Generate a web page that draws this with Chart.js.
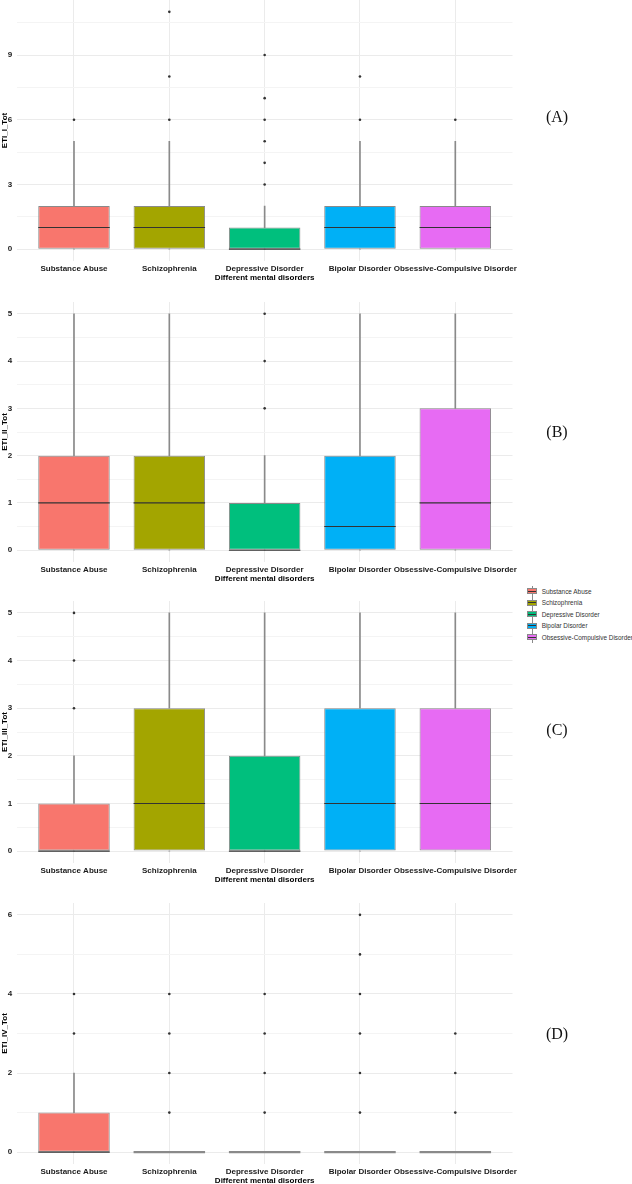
<!DOCTYPE html>
<html>
<head>
<meta charset="utf-8">
<script src="https://cdn.jsdelivr.net/npm/chart.js@4.4.1/dist/chart.umd.min.js"></script>
<style>
html,body{margin:0;padding:0;background:#fff;}
body{width:632px;height:1184px;overflow:hidden;position:relative;}
canvas{position:absolute;left:0;}
.plabel{position:absolute;font-family:"Liberation Serif","Times New Roman",serif;font-size:16px;color:#111;transform:translate(-50%,-50%);white-space:nowrap;line-height:1;}
#legend{position:absolute;left:527px;top:585.5px;font-family:"Liberation Sans",Arial,sans-serif;font-size:6.4px;color:#333;}
.lrow{position:relative;height:11.5px;}
.wh{position:absolute;left:4.5px;top:0;width:1px;height:11.5px;background:#8a8a8a;}
.kb{position:absolute;left:0;top:2.75px;width:10px;height:6px;box-sizing:border-box;border:1px solid #8a8a8a;}
.km{position:absolute;left:1px;top:5.25px;width:8px;height:1px;background:#333;}
.lt{position:absolute;left:14.7px;top:0;line-height:11.5px;white-space:nowrap;}
</style>
</head>
<body>
<div id="legend"></div>
<script>
// ---------- data ----------
const categories = ['Substance Abuse','Schizophrenia','Depressive Disorder','Bipolar Disorder','Obsessive-Compulsive Disorder'];
const colors = ['#F8766D','#A3A500','#00BF7D','#00B0F6','#E76BF3'];
const xAxisTitle = 'Different mental disorders';

// Panel A: ETI_I_Tot
const A_min = [0,0,0,0,0];
const A_q1 = [0,0,0,0,0];
const A_median = [1,1,0,1,1];
const A_q3 = [2,2,1,2,2];
const A_max = [5,5,2,5,5];
const A_outliers = [[6],[6,8,11],[3,4,5,6,7,9],[6,8],[6]];
const A_majorTicks = [0,3,6,9];

// Panel B: ETI_II_Tot
const B_min = [0,0,0,0,0];
const B_q1 = [0,0,0,0,0];
const B_median = [1,1,0,0.5,1];
const B_q3 = [2,2,1,2,3];
const B_max = [5,5,2,5,5];
const B_outliers = [[],[],[3,4,5],[],[]];
const B_majorTicks = [0,1,2,3,4,5];

// Panel C: ETI_III_Tot
const C_min = [0,0,0,0,0];
const C_q1 = [0,0,0,0,0];
const C_median = [0,1,0,1,1];
const C_q3 = [1,3,2,3,3];
const C_max = [2,5,5,5,5];
const C_outliers = [[3,4,5],[],[],[],[]];
const C_majorTicks = [0,1,2,3,4,5];

// Panel D: ETI_IV_Tot
const D_min = [0,0,0,0,0];
const D_q1 = [0,0,0,0,0];
const D_median = [0,0,0,0,0];
const D_q3 = [1,0,0,0,0];
const D_max = [2,0,0,0,0];
const D_outliers = [[3,4],[1,2,3,4],[1,2,3,4],[1,2,3,4,5,6],[1,2,3]];
const D_majorTicks = [0,2,4,6];

// ---------- layout ----------
const panels = [
  {tag:'(A)', yTitle:'ETI_I_Tot',  min:A_min, q1:A_q1, med:A_median, q3:A_q3, max:A_max, out:A_outliers, majors:A_majorTicks, minorStep:1.5, yMin:-0.55, yMax:11.55, areaTop:0,     areaBottom:260.9,  tagY:117},
  {tag:'(B)', yTitle:'ETI_II_Tot', min:B_min, q1:B_q1, med:B_median, q3:B_q3, max:B_max, out:B_outliers, majors:B_majorTicks, minorStep:0.5, yMin:-0.25, yMax:5.25,  areaTop:301.5, areaBottom:561.8,  tagY:432},
  {tag:'(C)', yTitle:'ETI_III_Tot',min:C_min, q1:C_q1, med:C_median, q3:C_q3, max:C_max, out:C_outliers, majors:C_majorTicks, minorStep:0.5, yMin:-0.25, yMax:5.25,  areaTop:601.2, areaBottom:862.8,  tagY:730},
  {tag:'(D)', yTitle:'ETI_IV_Tot', min:D_min, q1:D_q1, med:D_median, q3:D_q3, max:D_max, out:D_outliers, majors:D_majorTicks, minorStep:1,   yMin:-0.3,  yMax:6.3,   areaTop:903.4, areaBottom:1164.2, tagY:1034}
];
const AREA_LEFT = 16.8, AREA_RIGHT = 512.5, PAD_TOP = 12, XAXIS_H = 36;
const boldFont = {family:'"Liberation Sans", Arial, sans-serif', size:8, weight:'bold'};
const GREY = '#8a8a8a';

function halfBox(ctx){
  const xs = ctx.chart.scales.x;
  return Math.abs(xs.getPixelForValue(1) - xs.getPixelForValue(0)) * 0.75 / 2;
}

panels.forEach(p => {
  const canvas = document.createElement('canvas');
  const top = p.areaTop - PAD_TOP;
  const h = p.areaBottom + XAXIS_H - top;
  canvas.width = 632; canvas.height = Math.round(h);
  canvas.style.width = '632px'; canvas.style.height = Math.round(h) + 'px';
  canvas.style.top = top + 'px';
  document.body.appendChild(canvas);

  const lbl = document.createElement('div');
  lbl.className = 'plabel';
  lbl.textContent = p.tag;
  lbl.style.left = '557px';
  lbl.style.top = p.tagY + 'px';
  document.body.appendChild(lbl);

  const outlierPts = [];
  p.out.forEach((arr, i) => arr.forEach(v => outlierPts.push({x:i, y:v})));
  const flat = p.q1.map((v,i) => v === p.q3[i]);

  // grid positions (major + minor) within the data range
  const gridVals = [];
  for (let k = 0; k * p.minorStep <= p.yMax + 1e-9; k++) gridVals.push(Math.round(k * p.minorStep * 100) / 100);

  new Chart(canvas, {
    type: 'bar',
    data: {
      datasets: [
        {type:'scatter', label:'outliers', data: outlierPts, pointRadius:1.3, pointBackgroundColor:'#333', pointBorderWidth:0, order:1},
        {type:'scatter', label:'median', data: p.med.map((m,i)=>({x:i, y:m})), pointStyle:'line',
          pointRadius: halfBox,
          pointBorderColor: ctx => flat[ctx.dataIndex] ? GREY : '#333',
          pointBorderWidth: ctx => flat[ctx.dataIndex] ? 2.2 : 1.1, order:2},
        {type:'bar', label:'box', data: p.q1.map((v,i)=>({x:i, y:[v, p.q3[i]]})),
          backgroundColor: colors, borderColor: GREY, borderWidth: 1, borderSkipped:false,
          barPercentage:0.75, categoryPercentage:1, grouped:false, order:3},
        {type:'bar', label:'upper whisker', data: p.q3.map((v,i)=>({x:i, y:[v, p.max[i]]})),
          backgroundColor: GREY, borderWidth:0, barThickness:1, grouped:false, order:4},
        {type:'bar', label:'lower whisker', data: p.min.map((v,i)=>({x:i, y:[v, p.q1[i]]})),
          backgroundColor: GREY, borderWidth:0, barThickness:1, grouped:false, order:5}
      ]
    },
    options: {
      responsive:false, animation:false, events:[],
      layout:{padding:{top:PAD_TOP, left:0, bottom:0, right:632-AREA_RIGHT}},
      plugins:{legend:{display:false}, tooltip:{enabled:false}},
      scales:{
        x:{
          type:'linear', min:-0.6, max:4.6, offset:false,
          afterBuildTicks: s => { s.ticks = categories.map((c,i)=>({value:i})); },
          afterFit: s => { s.height = XAXIS_H; s.paddingLeft = 0; s.paddingRight = 0; },
          border:{display:false},
          grid:{drawTicks:false, color:'#ebebeb', lineWidth:1, offset:false},
          ticks:{autoSkip:false, maxRotation:0, minRotation:0,
                 padding:2.7, color:'#1a1a1a', font:boldFont,
                 callback: v => categories[v] !== undefined ? categories[v] : ''},
          title:{display:true, text:xAxisTitle, color:'#000', font:boldFont, padding:{top:0, bottom:14.2}}
        },
        y:{
          min:p.yMin, max:p.yMax,
          afterBuildTicks: s => { s.ticks = gridVals.map(v=>({value:v})); },
          afterFit: s => { s.width = AREA_LEFT; s.paddingTop = 0; s.paddingBottom = 0; },
          border:{display:false},
          grid:{drawTicks:false,
                color: ctx => (ctx.tick && p.majors.includes(ctx.tick.value)) ? '#ebebeb' : '#f4f4f4',
                lineWidth: 1},
          ticks:{autoSkip:false, padding:4.5, color:'#1a1a1a', font:boldFont,
                 callback: v => p.majors.includes(v) ? String(v) : ''},
          title:{display:true, text:p.yTitle, color:'#000', font:boldFont, padding:{top:0, bottom:0}}
        }
      }
    }
  });
});

// ---------- legend ----------
const legend = document.getElementById('legend');
categories.forEach((c,i) => {
  const row = document.createElement('div');
  row.className = 'lrow';
  row.innerHTML = '<div class="wh"></div><div class="kb" style="background:'+colors[i]+'"></div><div class="km"></div><div class="lt"></div>';
  row.querySelector('.lt').textContent = c;
  legend.appendChild(row);
});
</script>
</body>
</html>
